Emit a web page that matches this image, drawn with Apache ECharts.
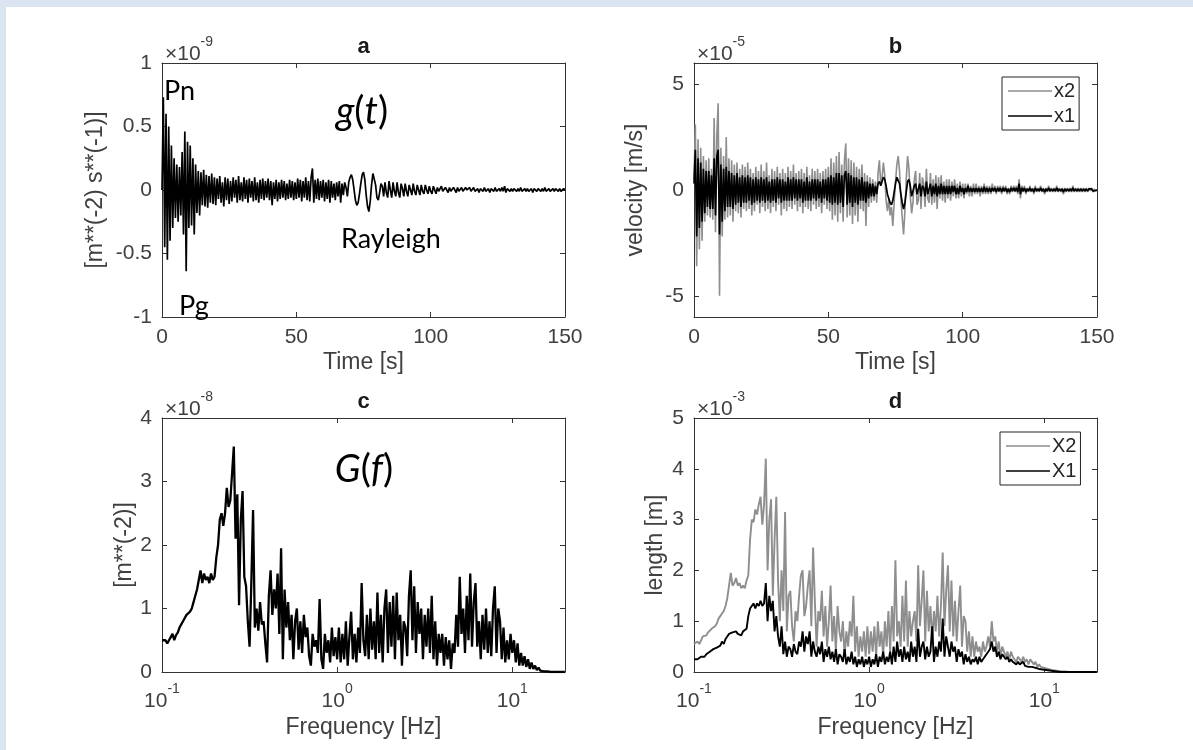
<!DOCTYPE html>
<html><head><meta charset="utf-8">
<script src="https://cdn.jsdelivr.net/npm/echarts@6/dist/echarts.min.js"></script>
<style>html,body{margin:0;padding:0;background:#fff}#c{width:1193px;height:750px}</style>
</head><body><div id="c"></div>
<script>
// ---- sampling of the traces ----
const timeStep = 0.5;           // seconds between samples (panels a, b)
const freqStart = 0.1;          // Hz, first spectral sample (panels c, d)
const freqLogStep = 0.01;       // decades between spectral samples

// ---- panel a : g(t)  (x 1e-9) ----
const gT = [
 0.0, 0.73, -0.45, 0.6, -0.55, 0.5, -0.4, 0.35, -0.3, 0.25,
 -0.22, 0.2, -0.25, 0.18, -0.2, 0.3, -0.35, 0.46, -0.64, 0.38,
 -0.3, 0.35, -0.28, 0.25, -0.35, 0.2, -0.18, 0.15, -0.2, 0.14,
 -0.12, 0.16, -0.13, 0.12, -0.14, 0.11, -0.1, 0.13, -0.11, 0.1,
 -0.12, 0.09, -0.07, 0.11, -0.1, 0.06, -0.13, 0.1, -0.08, 0.09,
 -0.11, 0.07, -0.09, 0.1, -0.06, 0.08, -0.1, 0.11, -0.08, 0.06,
 -0.09, 0.1, -0.07, 0.08, -0.1, 0.09, -0.06, 0.07, -0.09, 0.1,
 -0.08, 0.06, -0.1, 0.08, -0.07, 0.09, -0.08, 0.07, -0.06, 0.09,
 -0.08, 0.07, -0.12, 0.06, -0.07, 0.08, -0.09, 0.06, -0.07, 0.08,
 -0.06, 0.07, -0.08, 0.05, -0.07, 0.08, -0.06, 0.07, -0.08, 0.06,
 -0.07, 0.09, -0.06, 0.08, -0.09, 0.07, -0.06, 0.1, -0.08, 0.07,
 -0.09, 0.1, 0.17, -0.1, 0.08, -0.07, 0.09, -0.08, 0.07, -0.06,
 0.08, -0.09, 0.06, -0.07, 0.08, -0.1, 0.07, -0.06, 0.05, -0.08,
 0.06, -0.05, 0.07, -0.1, 0.05, -0.04, 0.06, 0.02, -0.05, 0.06,
 0.1, 0.12, 0.08, 0.0, -0.08, -0.12, -0.1, -0.03, 0.05, 0.12,
 0.14, 0.08, -0.04, -0.13, -0.17, -0.09, 0.04, 0.13, 0.12, 0.04,
 -0.06, -0.08, -0.02, 0.05, 0.03, -0.05, 0.06, -0.02, -0.06, 0.07,
 0.0, -0.06, 0.06, -0.01, -0.05, 0.06, -0.02, -0.06, 0.05, 0.01,
 -0.05, 0.05, -0.01, -0.05, 0.04, 0.0, -0.04, 0.05, -0.01, -0.04,
 0.04, 0.0, -0.04, 0.04, -0.01, -0.03, 0.04, 0.0, -0.03, 0.03,
 -0.01, -0.03, 0.03, 0.0, -0.03, 0.02, -0.01, -0.02, 0.03, -0.01,
 -0.02, 0.02, 0.0, -0.02, 0.02, -0.01, -0.02, 0.02, 0.0, -0.02,
 0.02, -0.01, -0.01, 0.02, -0.01, -0.02, 0.02, 0.0, -0.01, 0.02,
 -0.01, -0.01, 0.02, -0.01, 0.0, 0.01, -0.02, 0.01, 0.0, -0.01,
 0.02, -0.01, 0.0, 0.01, -0.02, 0.01, 0.0, -0.01, 0.02, -0.01,
 0.0, 0.01, -0.01, 0.02, -0.01, 0.03, -0.02, 0.01, 0.0, -0.01,
 0.01, -0.01, 0.01, 0.0, -0.01, 0.01, -0.01, 0.02, -0.01, 0.0,
 0.01, -0.01, 0.01, -0.01, 0.0, 0.01, -0.02, 0.01, 0.0, -0.01,
 0.01, 0.0, -0.01, 0.01, -0.01, 0.02, -0.01, 0.0, 0.01, -0.01,
 0.0, 0.01, -0.01, 0.01, 0.0, -0.01, 0.01, -0.01, 0.0, 0.01,
 0.0
];

// ---- panel b : velocity (x 1e-5 m/s) ----
const velX2 = [
 0.5, 3.1, -3.6, 2.4, -2.8, 2.0, -2.4, 1.6, -1.5, 1.4,
 -1.2, 1.5, -1.3, 1.0, -1.4, 3.4, -2.0, 2.6, 4.1, -5.0,
 2.0, -2.2, 1.6, -1.4, 2.5, -1.3, 1.5, -1.2, 1.4, -1.5,
 1.2, -1.0, 1.3, -1.1, 1.0, -1.3, 1.2, -0.9, 1.1, -1.0,
 1.3, -0.9, 1.0, -1.2, 0.8, -1.0, 1.1, -0.7, 0.9, -1.1,
 1.2, -0.8, 0.9, -1.0, 1.3, -0.9, 0.7, -1.1, 1.0, -0.8,
 0.9, -1.0, 1.1, -0.7, 0.8, -1.2, 1.0, -0.9, 0.8, -1.0,
 1.1, -0.8, 0.9, -0.9, 1.2, -0.7, 0.8, -1.0, 0.9, -0.8,
 1.0, -1.1, 0.8, -0.8, 1.1, -0.9, 0.7, -1.0, 1.0, -0.7,
 0.9, -0.9, 1.0, -0.8, 0.8, -1.1, 0.9, -0.7, 1.0, -0.9,
 1.1, -1.0, 1.5, -1.4, 1.3, -1.2, 1.6, -1.5, 1.8, -1.1,
 1.2, -1.5, 1.4, 2.2, -1.3, 1.5, -1.2, 1.4, -1.6, 1.3,
 -1.2, 1.1, -1.5, 1.0, -0.9, 1.2, -1.0, 0.8, -1.7, 0.7,
 -0.8, 0.6, -0.6, 0.5, -0.5, 0.4, -0.6, 0.8, 1.4, 0.3,
 0.6, 1.3, 0.7, -0.5, -1.0, -0.4, -1.2, -0.8, -1.7, -0.6,
 0.4, 1.2, 1.6, 0.9, -0.4, -1.3, -2.1, -1.0, 0.5, 1.6,
 1.0, -0.3, -1.1, -0.6, 0.5, 0.9, -0.7, -0.5, 0.8, -0.9,
 0.6, 0.3, -0.8, 1.0, -0.4, -0.6, 0.8, -0.7, 0.5, -0.6,
 0.7, -0.9, 0.6, -0.4, 0.7, -0.5, 0.4, -0.6, 0.5, -0.4,
 0.5, -0.5, 0.4, -0.3, 0.5, -0.4, 0.3, -0.4, 0.4, -0.3,
 0.3, -0.4, 0.3, -0.2, 0.3, -0.3, 0.2, -0.3, 0.3, -0.2,
 0.3, -0.2, 0.2, -0.3, 0.2, -0.2, 0.3, -0.2, 0.2, -0.2,
 0.2, -0.2, 0.3, -0.1, 0.2, -0.2, 0.2, -0.1, 0.2, -0.2,
 0.2, -0.1, 0.2, -0.2, 0.1, -0.2, 0.2, -0.1, 0.2, -0.1,
 0.2, -0.2, 0.5, -0.4, 0.2, -0.1, 0.2, -0.2, 0.1, -0.1,
 0.2, -0.1, 0.1, -0.2, 0.2, -0.1, 0.1, -0.1, 0.2, -0.1,
 0.1, -0.2, 0.1, -0.1, 0.2, -0.1, 0.1, -0.1, 0.1, -0.1,
 0.2, -0.1, 0.1, -0.1, 0.1, -0.2, 0.1, -0.1, 0.1, -0.1,
 0.1, -0.1, 0.2, -0.1, 0.1, -0.1, 0.1, -0.1, 0.1, -0.1,
 0.1, -0.1, 0.1, -0.1, 0.1, -0.05, 0.1, -0.1, 0.05, -0.05,
 0.0
];
const velX1 = [
 0.3, 1.9, -2.2, 1.5, -1.8, 1.3, -1.5, 1.0, -1.1, 0.9,
 -0.8, 0.9, -0.9, 0.7, -0.9, 1.5, -1.2, 1.6, 1.9, -2.1,
 1.2, -1.5, 1.0, -1.0, 1.1, -0.8, 0.9, -0.8, 0.8, -0.9,
 0.7, -0.7, 0.8, -0.6, 0.6, -0.8, 0.7, -0.6, 0.6, -0.6,
 0.7, -0.5, 0.6, -0.7, 0.5, -0.6, 0.6, -0.5, 0.5, -0.6,
 0.6, -0.5, 0.5, -0.6, 0.6, -0.5, 0.4, -0.6, 0.5, -0.5,
 0.5, -0.6, 0.6, -0.4, 0.5, -0.6, 0.5, -0.5, 0.4, -0.5,
 0.6, -0.5, 0.5, -0.5, 0.6, -0.4, 0.5, -0.5, 0.5, -0.4,
 0.5, -0.6, 0.4, -0.5, 0.6, -0.5, 0.4, -0.5, 0.5, -0.4,
 0.5, -0.5, 0.5, -0.4, 0.4, -0.6, 0.5, -0.4, 0.5, -0.5,
 0.6, -0.6, 0.7, -0.7, 0.6, -0.6, 0.8, -0.7, 0.8, -0.6,
 0.7, -0.8, 0.7, 0.9, -0.7, 0.8, -0.6, 0.7, -0.8, 0.6,
 -0.6, 0.6, -0.7, 0.5, -0.5, 0.6, -0.5, 0.4, -0.6, 0.4,
 -0.4, 0.3, -0.3, 0.3, -0.3, 0.2, -0.2, 0.3, 0.4, 0.2,
 0.4, 0.6, 0.5, 0.2, -0.2, -0.4, -0.6, -0.7, -0.5, -0.1,
 0.3, 0.6, 0.6, 0.3, -0.2, -0.6, -0.9, -0.6, -0.1, 0.4,
 0.5, 0.2, -0.3, -0.3, 0.2, 0.3, -0.2, -0.2, 0.3, -0.3,
 0.2, 0.1, -0.3, 0.4, -0.2, -0.2, 0.3, -0.3, 0.2, -0.2,
 0.3, -0.3, 0.2, -0.2, 0.3, -0.2, 0.2, -0.2, 0.2, -0.2,
 0.2, -0.2, 0.2, -0.1, 0.2, -0.2, 0.1, -0.2, 0.2, -0.1,
 0.1, -0.2, 0.1, -0.1, 0.2, -0.1, 0.1, -0.1, 0.1, -0.1,
 0.1, -0.1, 0.1, -0.1, 0.1, -0.1, 0.15, -0.1, 0.1, -0.1,
 0.1, -0.1, 0.1, -0.05, 0.1, -0.1, 0.1, -0.05, 0.1, -0.1,
 0.1, -0.05, 0.1, -0.1, 0.05, -0.1, 0.1, -0.05, 0.1, -0.05,
 0.1, -0.1, 0.3, -0.2, 0.1, -0.05, 0.1, -0.1, 0.05, -0.05,
 0.1, -0.05, 0.05, -0.1, 0.1, -0.05, 0.05, -0.05, 0.1, -0.05,
 0.05, -0.1, 0.05, -0.05, 0.1, -0.05, 0.05, -0.05, 0.05, -0.05,
 0.1, -0.05, 0.05, -0.05, 0.05, -0.1, 0.05, -0.05, 0.05, -0.05,
 0.05, -0.05, 0.1, -0.05, 0.05, -0.05, 0.05, -0.05, 0.05, -0.05,
 0.05, -0.05, 0.05, -0.05, 0.05, -0.02, 0.05, -0.05, 0.02, -0.02,
 0.0
];

// ---- panel c : G(f) (x 1e-8) ----
const gF = [
 0.5, 0.48, 0.5, 0.45, 0.5, 0.55, 0.6, 0.5, 0.58, 0.62,
 0.7, 0.75, 0.8, 0.85, 0.9, 0.88, 0.95, 1.0, 1.1, 1.2,
 1.3, 1.45, 1.6, 1.4, 1.55, 1.45, 1.5, 1.4, 1.55, 1.45,
 1.5, 1.8, 2.0, 2.4, 2.5, 2.3, 2.5, 2.9, 2.6, 2.7,
 2.7, 3.55, 2.1, 2.8, 1.05, 2.4, 2.85, 1.5, 1.35, 0.8,
 0.4, 1.4, 2.55, 0.7, 1.0, 0.65, 1.1, 0.75, 0.8, 0.45,
 0.15, 1.2, 1.6, 0.9, 1.3, 1.0, 1.55, 0.6, 1.95, 0.2,
 1.3, 0.7, 1.1, 0.5, 0.9, 0.2, 0.8, 1.0, 0.35, 0.8,
 0.3, 0.9, 0.55, 0.7, 0.25, 0.1, 0.6, 0.4, 0.5, 0.3,
 1.15, 0.2, 0.05, 0.6, 0.3, 0.5, 0.15, 0.7, 0.25, 0.55,
 0.2, 0.7, 0.15, 0.6, 0.2, 0.8, 0.1, 0.55, 0.95, 0.2,
 0.6, 0.15, 0.7, 0.3, 1.4, 0.5, 0.25, 0.9, 0.2, 1.0,
 0.35, 0.8, 0.2, 1.25, 0.3, 0.9, 0.15, 1.0, 1.3, 0.3,
 1.1, 0.4, 1.2, 0.2, 1.25, 0.5, 0.9, 0.1, 0.8, 0.7,
 0.25, 1.2, 1.6, 0.5, 1.35, 0.3, 1.1, 0.6, 1.0, 0.2,
 0.9, 0.4, 1.0, 0.3, 1.2, 0.2, 0.8, 0.1, 0.6, 0.3,
 0.6, 0.1, 0.55, 0.2, 0.5, 0.05, 0.45, 0.3, 0.9, 0.4,
 1.5, 0.6, 1.0, 0.3, 1.2, 0.5, 1.55, 0.4, 1.1, 1.4,
 0.4, 0.8, 0.2, 0.9, 0.35, 1.0, 0.3, 0.8, 0.25, 1.0,
 1.35, 0.3, 1.0, 0.8, 0.2, 0.7, 0.15, 0.5, 0.2, 0.6,
 0.3, 0.5, 0.15, 0.45, 0.1, 0.3, 0.1, 0.25, 0.08, 0.2,
 0.05, 0.15, 0.05, 0.1, 0.03, 0.07, 0.02, 0.04, 0.01, 0.02,
 0.01, 0, 0, 0, 0, 0, 0, 0, 0, 0, 0
];

// ---- panel d : length (x 1e-3 m) ----
const lenX2 = [
 0.55, 0.58, 0.6, 0.55, 0.62, 0.7, 0.68, 0.72, 0.78, 0.8,
 0.85, 0.82, 0.9, 0.95, 1.05, 1.1, 1.15, 1.2, 1.3, 1.45,
 1.7, 1.95, 1.7, 1.75, 1.85, 1.7, 1.75, 1.65, 1.7, 1.65,
 1.8, 1.9, 2.6, 3.0, 2.95, 3.2, 3.1, 3.3, 3.45, 2.9,
 3.3, 4.2, 2.0, 3.0, 3.4, 1.5, 2.6, 3.45, 1.8, 1.0,
 2.0, 1.2, 3.15, 0.8, 1.5, 1.6, 0.9, 0.6, 1.2, 1.0,
 1.5, 1.9, 2.0, 1.1, 1.3, 1.7, 2.0, 0.9, 2.45, 1.4,
 0.5, 1.2, 1.0, 1.6, 0.7, 1.3, 0.5, 1.0, 1.7, 0.6,
 1.1, 0.4, 1.3, 0.8, 0.6, 1.0, 0.3, 0.8, 0.5, 1.0,
 0.7, 1.5, 0.4, 0.9, 0.3, 0.7, 0.4, 0.8, 0.3, 0.9,
 0.35, 0.8, 0.4, 0.9, 0.3, 1.0, 0.5, 0.8, 0.3, 1.0,
 0.5, 1.2, 0.4, 1.3, 0.6, 2.2, 0.7, 1.0, 0.5, 1.5,
 0.6, 1.8, 0.5, 1.2, 0.7, 1.0, 1.2, 0.6, 2.1, 0.9,
 1.4, 2.0, 0.6, 1.6, 0.8, 1.3, 0.6, 1.2, 0.8, 1.5,
 0.7, 1.3, 2.35, 0.9, 1.6, 2.1, 0.8, 1.8, 0.7, 1.4,
 0.6, 1.2, 1.7, 0.5, 1.1, 1.0, 0.4, 0.8, 0.3, 0.7,
 0.3, 0.6, 0.4, 0.5, 0.3, 0.6, 0.4, 0.5, 0.7, 0.5,
 1.0, 0.6, 0.7, 0.4, 0.6, 0.3, 0.5, 0.5, 0.3, 0.4,
 0.25, 0.4, 0.3, 0.3, 0.2, 0.3, 0.25, 0.2, 0.3, 0.2,
 0.25, 0.15, 0.25, 0.2, 0.15, 0.2, 0.1, 0.15, 0.1, 0.12,
 0.08, 0.1, 0.06, 0.07, 0.04, 0.05, 0.03, 0.03, 0.02, 0.02,
 0.01, 0.01, 0.01, 0, 0, 0, 0, 0, 0, 0,
 0, 0, 0, 0, 0, 0, 0, 0, 0, 0, 0
];
const lenX1 = [
 0.25, 0.26, 0.25, 0.27, 0.3, 0.32, 0.3, 0.35, 0.38, 0.4,
 0.42, 0.45, 0.44, 0.48, 0.5, 0.52, 0.6, 0.55, 0.65, 0.7,
 0.75, 0.72, 0.78, 0.75, 0.8, 0.75, 0.78, 0.72, 0.8, 0.78,
 0.85, 1.1, 1.25, 1.3, 1.35, 1.25, 1.35, 1.3, 1.4, 1.3,
 1.35, 1.75, 1.0, 1.5, 1.2, 1.4, 0.8, 1.1, 0.7, 0.5,
 0.9, 0.35, 0.6, 0.3, 0.5, 0.45, 0.3, 0.55, 0.4, 0.35,
 0.6, 0.5, 0.8, 0.4, 0.7, 0.55, 0.8, 0.3, 0.6, 0.4,
 0.3, 0.5, 0.35, 0.6, 0.2, 0.45, 0.3, 0.5, 0.25, 0.4,
 0.2, 0.45, 0.15, 0.35, 0.3, 0.2, 0.45, 0.15, 0.3, 0.2,
 0.4, 0.15, 0.3, 0.1, 0.25, 0.15, 0.3, 0.1, 0.25, 0.15,
 0.3, 0.1, 0.25, 0.15, 0.35, 0.1, 0.3, 0.2, 0.4, 0.15,
 0.3, 0.2, 0.4, 0.15, 0.5, 0.2, 0.6, 0.3, 0.45, 0.2,
 0.5, 0.25, 0.4, 0.2, 0.6, 0.3, 0.5, 0.2, 0.85, 0.3,
 0.5, 0.6, 0.25, 0.5, 0.3, 0.4, 0.9, 0.2, 0.5, 0.3,
 0.6, 0.4, 1.05, 0.3, 0.7, 0.5, 0.3, 0.6, 0.4, 0.5,
 0.2, 0.45, 0.3, 0.4, 0.15, 0.35, 0.2, 0.3, 0.15, 0.25,
 0.2, 0.3, 0.15, 0.3, 0.2, 0.25, 0.3, 0.35, 0.4, 0.45,
 0.6, 0.4, 0.5, 0.3, 0.4, 0.25, 0.35, 0.3, 0.25, 0.3,
 0.2, 0.25, 0.2, 0.2, 0.15, 0.2, 0.15, 0.15, 0.2, 0.12,
 0.15, 0.1, 0.12, 0.1, 0.1, 0.08, 0.08, 0.06, 0.06, 0.05,
 0.04, 0.04, 0.03, 0.03, 0.02, 0.02, 0.01, 0.01, 0.01, 0,
 0, 0, 0, 0, 0, 0, 0, 0, 0, 0,
 0, 0, 0, 0, 0, 0, 0, 0, 0, 0, 0
];

// ---- ticks / labels ----
const timeRange = [0, 150], timeTickStep = 50;
const gRange = [-1, 1], gTickStep = 0.5;
const velRange = [-6, 6], velTicks = [-5, 0, 5];
const freqRange = [0.1, 20];
const gFRange = [0, 4], lenRange = [0, 5], specTickStep = 1;
const panelTitles = ['a', 'b', 'c', 'd'];
const exponents = ['-9', '-5', '-8', '-3'];
const xNames = ['Time [s]', 'Time [s]', 'Frequency [Hz]', 'Frequency [Hz]'];
const yNames = ['[m**(-2) s**(-1)]', 'velocity [m/s]', '[m**(-2)]', 'length [m]'];

// ---------------------------------------------------------------
const FONT = 'Liberation Sans';
const AXC = '#333333';
const LBLC = '#404040';
const BAND = '#dbe5f1';

const toTime = arr => arr.map((v, i) => [i * timeStep, v]);
const toFreq = arr => arr.map((v, i) => [freqStart * Math.pow(10, i * freqLogStep), v]);

const grids = [
  {left: 162, top: 63, width: 403, height: 254},
  {left: 694, top: 63, width: 403, height: 254},
  {left: 162, top: 418, width: 403, height: 254},
  {left: 694, top: 418, width: 403, height: 254}
];

function axisCommon(g, pos, showLabel) {
  return {
    gridIndex: g, position: pos,
    axisLine: {show: true, onZero: false, lineStyle: {color: AXC, width: 1}},
    axisTick: {show: true, inside: true, length: 5, lineStyle: {color: AXC, width: 1}},
    axisLabel: {show: showLabel, color: LBLC, fontSize: 21, fontFamily: FONT, margin: 10},
    splitLine: {show: false}
  };
}
function logLabel(v) {
  const l = Math.log10(v), e = Math.round(l);
  if (Math.abs(l - e) > 1e-6) return '';
  return '{b|10}{s|' + e + '}';
}
const logRich = {
  b: {fontSize: 21, fontFamily: FONT, color: LBLC, lineHeight: 30, verticalAlign: 'bottom'},
  s: {fontSize: 14, fontFamily: FONT, color: LBLC, lineHeight: 30, verticalAlign: 'top'}
};

const xAxis = [], yAxis = [];
[0, 1, 2, 3].forEach(g => {
  ['bottom', 'top'].forEach(pos => {
    const a = axisCommon(g, pos, pos === 'bottom');
    if (g < 2) {
      Object.assign(a, {type: 'value', min: timeRange[0], max: timeRange[1], interval: timeTickStep});
    } else {
      Object.assign(a, {type: 'log', logBase: 10, min: freqRange[0], max: freqRange[1]});
      a.axisLabel.formatter = logLabel;
      a.axisLabel.rich = logRich;
    }
    xAxis.push(a);
  });
  ['left', 'right'].forEach(pos => {
    const a = axisCommon(g, pos, pos === 'left');
    a.type = 'value';
    if (g === 0) Object.assign(a, {min: gRange[0], max: gRange[1], interval: gTickStep});
    if (g === 1) {
      Object.assign(a, {min: velRange[0], max: velRange[1]});
      a.axisTick.customValues = velTicks;
      a.axisLabel.customValues = velTicks;
    }
    if (g === 2) Object.assign(a, {min: gFRange[0], max: gFRange[1], interval: specTickStep});
    if (g === 3) Object.assign(a, {min: lenRange[0], max: lenRange[1], interval: specTickStep});
    yAxis.push(a);
  });
});

function lineSeries(name, data, g, color, width) {
  return {
    name, type: 'line', data, xAxisIndex: 2 * g, yAxisIndex: 2 * g,
    symbol: 'none', showSymbol: false, sampling: null, animation: false,
    lineStyle: {color, width}, itemStyle: {color}, clip: true
  };
}
const series = [
  lineSeries('g(t)', toTime(gT), 0, '#000', 1.7),
  lineSeries('x2', toTime(velX2), 1, '#8e8e8e', 1.6),
  lineSeries('x1', toTime(velX1), 1, '#000', 1.7),
  lineSeries('G(f)', toFreq(gF), 2, '#000', 2.3),
  lineSeries('X2', toFreq(lenX2), 3, '#8e8e8e', 1.9),
  lineSeries('X1', toFreq(lenX1), 3, '#000', 1.9)
];

function legendAt(names, left, top) {
  return {
    data: names, left, top, orient: 'vertical', selectedMode: false,
    icon: 'rect', itemWidth: 44, itemHeight: 1.3, itemGap: 3,
    padding: [3, 4, 3, 6],
    borderColor: '#222', borderWidth: 1, backgroundColor: '#fff',
    textStyle: {fontSize: 20, fontFamily: FONT, color: '#262626', lineHeight: 22, padding: [0, 0, 0, -3]}
  };
}

const graphic = [
  {type: 'rect', shape: {x: 0, y: 0, width: 1193, height: 7}, style: {fill: BAND}, z: 0, silent: true},
  {type: 'rect', shape: {x: 0, y: 0, width: 6, height: 750}, style: {fill: BAND}, z: 0, silent: true}
];
grids.forEach((gr, g) => {
  const cx = gr.left + gr.width / 2;
  graphic.push({type: 'text', x: cx, y: gr.top - 16, z: 50,
    style: {text: panelTitles[g], fontSize: 22, fontWeight: 'bold', fontFamily: FONT, fill: '#1a1a1a', align: 'center', verticalAlign: 'middle'}});
  graphic.push({type: 'text', x: gr.left + 3, y: gr.top - 13, z: 50,
    style: {text: '{m|\u00d710}{s|' + exponents[g] + '}', align: 'left', verticalAlign: 'middle',
      rich: {m: {fontSize: 21, fontFamily: FONT, fill: LBLC, color: LBLC, lineHeight: 30, verticalAlign: 'bottom'},
             s: {fontSize: 14, fontFamily: FONT, fill: LBLC, color: LBLC, lineHeight: 30, verticalAlign: 'top'}}}});
  graphic.push({type: 'text', x: cx, y: gr.top + gr.height + (g < 2 ? 46 : 56), z: 50,
    style: {text: xNames[g], fontSize: 23, fontFamily: FONT, fill: LBLC, align: 'center', verticalAlign: 'middle'}});
});
const yNameX = [96, 636, 125, 656];
grids.forEach((gr, g) => {
  graphic.push({type: 'text', x: yNameX[g], y: gr.top + gr.height / 2, rotation: Math.PI / 2, z: 50,
    style: {text: yNames[g], fontSize: 23, fontFamily: FONT, fill: LBLC, align: 'center', verticalAlign: 'middle'}});
});
// annotations
const ANN = 'Lato';
graphic.push(
  {type: 'text', x: 164, y: 91, z: 60, style: {text: 'Pn', fontSize: 27, fontFamily: ANN, fill: '#000', align: 'left', verticalAlign: 'middle'}},
  {type: 'text', x: 179, y: 306, z: 60, style: {text: 'Pg', fontSize: 27, fontFamily: ANN, fill: '#000', align: 'left', verticalAlign: 'middle'}},
  {type: 'text', x: 341, y: 239, z: 60, style: {text: 'Rayleigh', fontSize: 27, fontFamily: ANN, fill: '#000', align: 'left', verticalAlign: 'middle'}},
  {type: 'text', x: 362, y: 112, z: 60, style: {text: '{i|g}{r|(}{i|t}{r|)}', align: 'center', verticalAlign: 'middle',
    rich: {i: {fontSize: 38, fontFamily: ANN, fontStyle: 'italic', fill: '#000', color: '#000'}, r: {fontSize: 38, fontFamily: ANN, fill: '#000', color: '#000'}}}},
  {type: 'text', x: 364, y: 470, z: 60, style: {text: '{i|G}{r|(}{i|f}{r|)}', align: 'center', verticalAlign: 'middle',
    rich: {i: {fontSize: 38, fontFamily: ANN, fontStyle: 'italic', fill: '#000', color: '#000'}, r: {fontSize: 38, fontFamily: ANN, fill: '#000', color: '#000'}}}}
);

const chart = echarts.init(document.getElementById('c'), null, {renderer: 'canvas'});
chart.setOption({
  backgroundColor: '#ffffff',
  animation: false,
  grid: grids,
  xAxis, yAxis, series,
  legend: [legendAt(['x2', 'x1'], 1002, 77), legendAt(['X2', 'X1'], 1000, 432)],
  graphic
});
</script></body></html>
